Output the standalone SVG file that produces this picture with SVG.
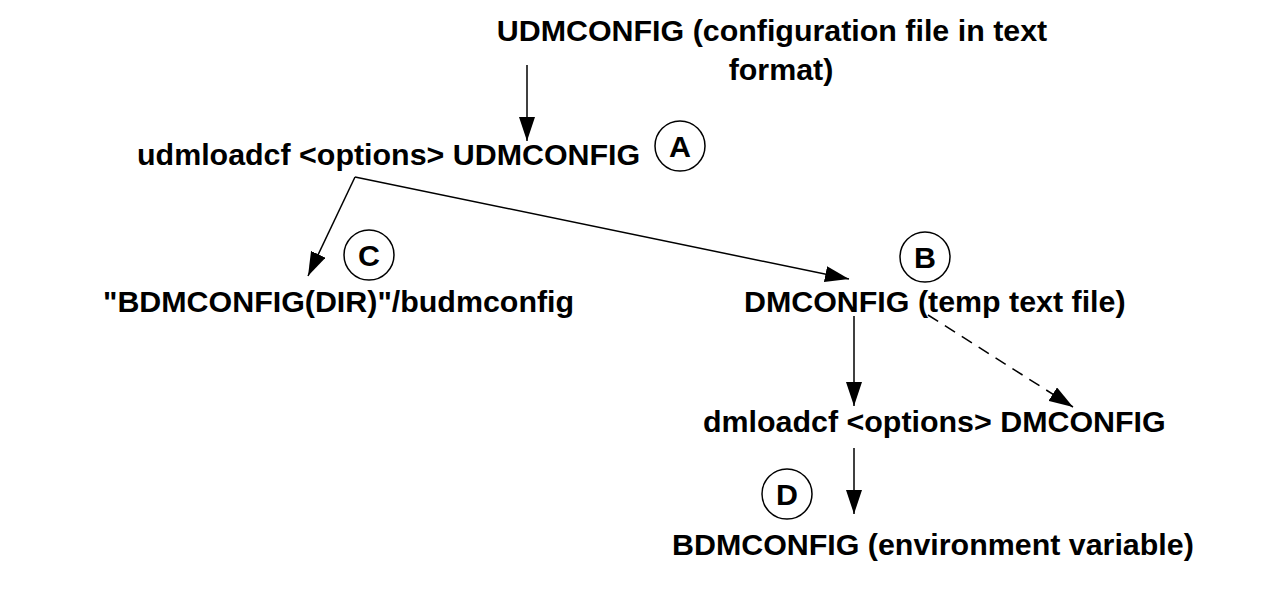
<svg xmlns="http://www.w3.org/2000/svg" width="1280" height="594" viewBox="0 0 1280 594">
<style>
text{font-family:"Liberation Sans",Arial,sans-serif;font-weight:bold;font-size:30.4px;fill:#000}
.c{fill:#fff;stroke:#000;stroke-width:1.5}
.l{stroke:#000;stroke-width:1.5;fill:none}
.d{stroke-dasharray:12 8}
</style>
<defs>
<marker id="ah" viewBox="0 0 24 16" refX="24" refY="8" markerWidth="24" markerHeight="16" markerUnits="userSpaceOnUse" orient="auto">
<path d="M0,0 L24,8 L0,16 z" fill="#000"/>
</marker>
</defs>
<rect width="1280" height="594" fill="#fff"/>
<g id="connectors">
<line class="l" x1="527" y1="65" x2="527" y2="141" marker-end="url(#ah)"/>
<line class="l" x1="355" y1="177" x2="308" y2="276" marker-end="url(#ah)"/>
<line class="l" x1="355" y1="177" x2="849" y2="279" marker-end="url(#ah)"/>
<line class="l" x1="854" y1="316" x2="854" y2="406" marker-end="url(#ah)"/>
<line class="l d" x1="928" y1="315" x2="1073" y2="407" marker-end="url(#ah)"/>
<line class="l" x1="854" y1="448" x2="854" y2="514" marker-end="url(#ah)"/>
</g>
<g id="udmconfig">
<text x="772" y="41" text-anchor="middle">UDMCONFIG (configuration file in text</text>
<text x="781" y="80" text-anchor="middle">format)</text>
</g>
<g id="udmloadcf">
<text x="137" y="165">udmloadcf &lt;options&gt; UDMCONFIG</text>
</g>
<g id="label-a">
<circle class="c" cx="680" cy="146" r="25"/>
<text x="680" y="157" text-anchor="middle">A</text>
</g>
<g id="budmconfig">
<text x="103" y="312">"BDMCONFIG(DIR)"/budmconfig</text>
</g>
<g id="label-c">
<circle class="c" cx="369" cy="255" r="25"/>
<text x="369" y="266" text-anchor="middle">C</text>
</g>
<g id="dmconfig">
<text x="744" y="312">DMCONFIG (temp text file)</text>
</g>
<g id="label-b">
<circle class="c" cx="925" cy="257" r="25"/>
<text x="925" y="268" text-anchor="middle">B</text>
</g>
<g id="dmloadcf">
<text x="703" y="432">dmloadcf &lt;options&gt; DMCONFIG</text>
</g>
<g id="label-d">
<circle class="c" cx="787" cy="494" r="25"/>
<text x="787" y="505" text-anchor="middle">D</text>
</g>
<g id="bdmconfig">
<text x="672" y="555">BDMCONFIG (environment variable)</text>
</g>
</svg>
